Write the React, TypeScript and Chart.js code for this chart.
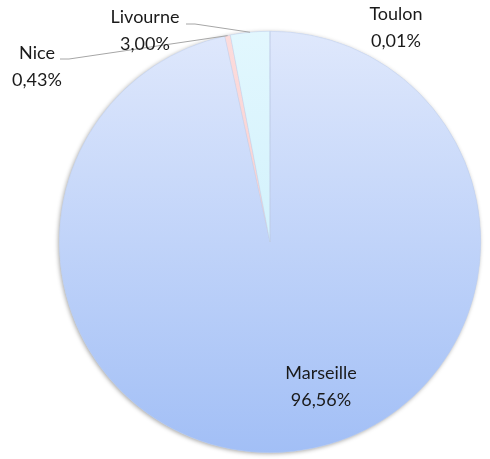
import React, { useEffect, useRef } from "react";
import { Chart, registerables } from "chart.js";

Chart.register(...registerables);

const cities = ["Marseille", "Nice", "Livourne", "Toulon"];
const shares = [96.56, 0.43, 3.0, 0.01];
const shareLabels = ["96,56%", "0,43%", "3,00%", "0,01%"];
const gradTop = ["#dfe8fc", "#fcdcdc", "#e2f7fe", "#e2f7fe"];
const gradBottom = ["#a2bff6", "#f7c4c4", "#c4edfa", "#c4edfa"];

// label anchor positions (text centre)
const labelPos = [
  { x: 321, y: 373 },
  { x: 37, y: 53 },
  { x: 145, y: 17 },
  { x: 396, y: 14 },
];

const labelPlugin = {
  id: "pieLabels",
  beforeDatasetsDraw(chart: any) {
    const ctx = chart.ctx;
    const arc = chart.getDatasetMeta(0).data[0];
    if (!arc) return;
    ctx.save();
    ctx.beginPath();
    ctx.arc(arc.x, arc.y, arc.outerRadius, 0, Math.PI * 2);
    ctx.shadowColor = "rgba(0,0,0,0.35)";
    ctx.shadowBlur = 4;
    ctx.shadowOffsetX = -1;
    ctx.shadowOffsetY = 1;
    ctx.fillStyle = "#c8d8f8";
    ctx.fill();
    ctx.restore();
  },
  afterDatasetsDraw(chart: any) {
    const ctx = chart.ctx;
    const meta = chart.getDatasetMeta(0);
    ctx.save();
    ctx.strokeStyle = "#a6a6a6";
    ctx.lineWidth = 1;
    const leader = (idx: number, sx: number, sy: number) => {
      const a = meta.data[idx];
      const mid = (a.startAngle + a.endAngle) / 2;
      const ex = a.x + Math.cos(mid) * a.outerRadius;
      const ey = a.y + Math.sin(mid) * a.outerRadius;
      ctx.beginPath();
      ctx.moveTo(sx, sy);
      ctx.lineTo(sx + 9, sy);
      ctx.lineTo(ex, ey);
      ctx.stroke();
    };
    leader(1, 60, 59);
    leader(2, 186, 24);
    ctx.fillStyle = "#1a1a1a";
    ctx.font = "18px Lato, 'Open Sans', sans-serif";
    ctx.textAlign = "center";
    ctx.textBaseline = "middle";
    cities.forEach((c, i) => {
      const p = labelPos[i];
      ctx.fillText(c, p.x, p.y);
      ctx.fillText(shareLabels[i], p.x, p.y + 27);
    });
    ctx.restore();
  },
};

export default function App() {
  const ref = useRef<HTMLCanvasElement>(null);
  useEffect(() => {
    if (!ref.current) return;
    const chart = new Chart(ref.current, {
      type: "pie",
      data: {
        labels: cities,
        datasets: [
          {
            data: shares,
            backgroundColor: (c: any) => {
              const ch = c.chart;
              const area = ch.chartArea;
              if (!area) return gradBottom[c.dataIndex];
              const g = ch.ctx.createLinearGradient(0, area.top, 0, area.bottom);
              g.addColorStop(0, gradTop[c.dataIndex]);
              g.addColorStop(1, gradBottom[c.dataIndex]);
              return g;
            },
            borderColor: "rgba(190,205,230,0.6)",
            borderWidth: 0.6,
          },
        ],
      },
      options: {
        responsive: false,
        animation: false,
        layout: { padding: { left: 59, right: 9, top: 31, bottom: 6 } },
        plugins: {
          legend: { display: false },
          tooltip: { enabled: false },
        },
      },
      plugins: [labelPlugin],
    });
    return () => chart.destroy();
  }, []);
  return (
    <div style={{ position: "fixed", left: 0, top: 0, width: 490, height: 459, background: "#fff" }}>
      <canvas ref={ref} width={490} height={459} />
    </div>
  );
}
